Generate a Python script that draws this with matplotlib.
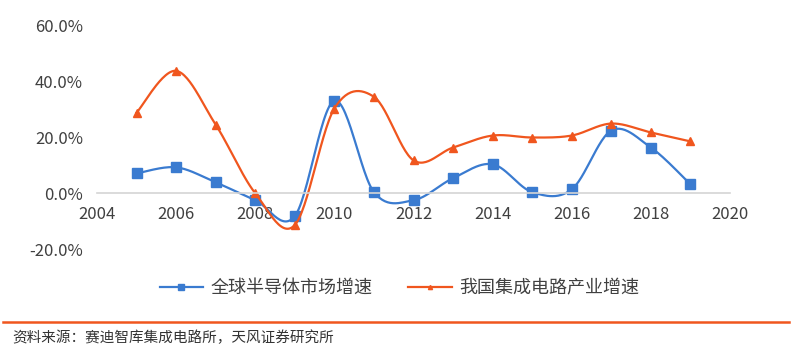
import numpy as np
import matplotlib.pyplot as plt
from matplotlib.lines import Line2D

plt.rcParams['font.family'] = ['Noto Sans CJK SC', 'DejaVu Sans']

years = [2005, 2006, 2007, 2008, 2009, 2010, 2011, 2012, 2013, 2014, 2015, 2016, 2017, 2018, 2019]
global_growth = [7.1, 9.3, 3.9, -2.5, -8.2, 33.2, 0.4, -2.5, 5.4, 10.4, 0.4, 1.4, 22.5, 16.4, 3.2]
china_growth = [28.9, 43.9, 24.6, 0.0, -11.4, 30.4, 34.6, 11.8, 16.4, 20.7, 20.0, 20.7, 25.0, 21.8, 18.6]
series_names = ['全球半导体市场增速', '我国集成电路产业增速']
source_text = '资料来源：赛迪智库集成电路所，天风证券研究所'

blue = '#3a7bd0'
orange = '#f0561e'
txt = '#404040'


def smooth(x, y, n=30):
    # excel-like smoothed line: bezier segments with catmull-rom control points
    p = np.column_stack([x, y]).astype(float)
    p = np.vstack([p[0], p, p[-1]])
    out = []
    for i in range(1, len(p) - 2):
        p0, p1, p2, p3 = p[i - 1], p[i], p[i + 1], p[i + 2]
        c1 = p1 + (p2 - p0) / 6
        c2 = p2 - (p3 - p1) / 6
        t = np.linspace(0, 1, n)[:, None]
        seg = (1 - t) ** 3 * p1 + 3 * (1 - t) ** 2 * t * c1 + 3 * (1 - t) * t ** 2 * c2 + t ** 3 * p2
        out.append(seg if i == 1 else seg[1:])
    out = np.vstack(out)
    return out[:, 0], out[:, 1]


fig = plt.figure(figsize=(7.94, 3.53), dpi=100)
ax = fig.add_axes([97 / 794, 1 - 249 / 353, 633 / 794, 223 / 353])

sx, sy = smooth(years, global_growth)
ax.plot(sx, sy, color=blue, lw=1.6)
ax.plot(years, global_growth, 's', color=blue, ms=6.5)
sx, sy = smooth(years, china_growth)
ax.plot(sx, sy, color=orange, lw=1.6)
ax.plot(years, china_growth, '^', color=orange, ms=6)

ax.set_xlim(2004, 2020)
ax.set_ylim(-20, 60)
ax.set_xticks(range(2004, 2021, 2))
ax.set_yticks(range(-20, 61, 20))
ax.set_yticklabels([f'{v:.1f}%' for v in range(-20, 61, 20)])
for s in ['top', 'right', 'left']:
    ax.spines[s].set_visible(False)
ax.spines['bottom'].set_position(('data', 0))
ax.spines['bottom'].set_color('#d4d4d4')
ax.spines['bottom'].set_linewidth(1.2)
ax.tick_params(axis='both', length=0, labelsize=12, labelcolor=txt)
ax.tick_params(axis='y', pad=10)
ax.tick_params(axis='x', pad=9)

handles = [Line2D([], [], color=blue, lw=1.6, marker='s', ms=5),
           Line2D([], [], color=orange, lw=1.6, marker='^', ms=3)]
fig.legend(handles, series_names, loc='center', bbox_to_anchor=(0.503, 1 - 288 / 353),
           ncol=2, frameon=False, fontsize=13, labelcolor=txt,
           handlelength=2.4, handletextpad=0.4, columnspacing=2.0)

fig.add_artist(Line2D([3 / 794, 789 / 794], [1 - 322 / 353] * 2, color=orange, lw=1.8))
fig.text(12 / 794, 1 - 338 / 353, source_text, fontsize=10.5, color='#333333', va='center')

fig.savefig('out.png', dpi=100)
